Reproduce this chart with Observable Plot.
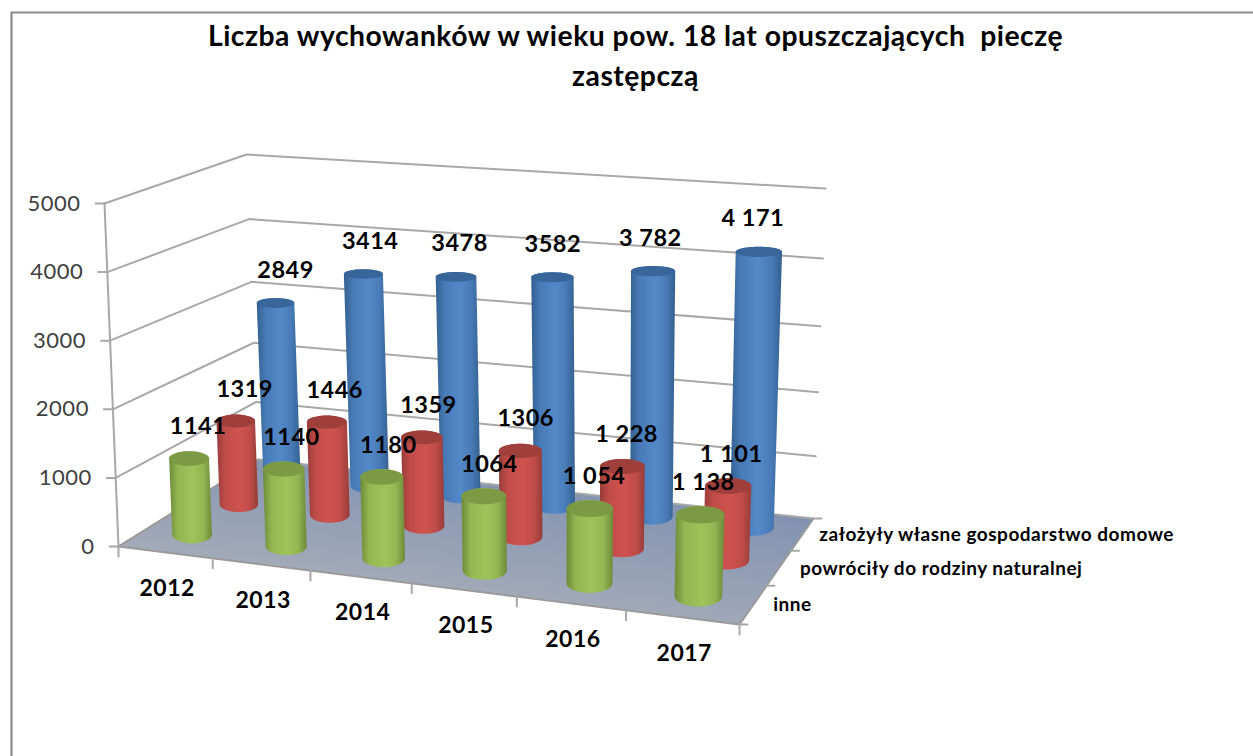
<!DOCTYPE html>
<html><head><meta charset="utf-8">
<script src="https://cdn.jsdelivr.net/npm/d3@7"></script>
<script src="https://cdn.jsdelivr.net/npm/@observablehq/plot@0.6"></script>
<style>html,body{margin:0;padding:0;background:#fff}svg{display:block}svg text{letter-spacing:0.5px}</style>
</head><body><div id="chart"></div>
<script>
const title = "Liczba wychowanków w wieku pow. 18 lat opuszczających  pieczę\nzastępczą";
const categories = ["2012","2013","2014","2015","2016","2017"];
const seriesNames = ["inne","powróciły do rodziny naturalnej","założyły własne gospodarstwo domowe"];
const inne = [1141,1140,1180,1064,1054,1138];
const powrocily = [1319,1446,1359,1306,1228,1101];
const zalozyly = [2849,3414,3478,3582,3782,4171];
const inneLabels = ["1141","1140","1180","1064","1 054","1 138"];
const powrocilyLabels = ["1319","1446","1359","1306","1 228","1 101"];
const zalozylyLabels = ["2849","3414","3478","3582","3 782","4 171"];
const valueTicks = [0,1000,2000,3000,4000,5000];
const seriesValues = [inne,powrocily,zalozyly];
const seriesLabels = [inneLabels,powrocilyLabels,zalozylyLabels];
const seriesStyle = ["green","red","blue"];

// 3D box projection
const maxV = 5000;
const floorQ = [[118,546],[739,624],[813,518],[258,459]];
const topQ = [[104,203],[752,250],[825,188],[246,154]];
function homog(q){
  const [[x0,y0],[x1,y1],[x2,y2],[x3,y3]] = q;
  const dx1=x1-x2,dx2=x3-x2,sx=x0-x1+x2-x3,dy1=y1-y2,dy2=y3-y2,sy=y0-y1+y2-y3;
  const den=dx1*dy2-dx2*dy1,g=(sx*dy2-dx2*sy)/den,h=(dx1*sy-sx*dy1)/den;
  const a=x1-x0+g*x1,b=x3-x0+h*x3,d=y1-y0+g*y1,e=y3-y0+h*y3;
  return (u,w)=>{const m=g*u+h*w+1;return [(a*u+b*w+x0)/m,(d*u+e*w+y0)/m];};
}
const Hf=homog(floorQ),Ht=homog(topQ);
function P(u,w,v){
  const persp=1-0.07*w;
  const s=v/maxV,t=s*persp/(1-(1-persp)*s);
  const a=Hf(u,w),b=Ht(u,w);
  return {x:a[0]+(b[0]-a[0])*t,y:a[1]+(b[1]-a[1])*t};
}
const ru=0.0358,rw=0.088,N=48;
const U=i=>(i+0.5)/6, W=j=>(j+0.5)/3+0.012;
function circle(u0,w0,v){
  const c=P(u0,w0,v);
  const ax=(P(u0+ru,w0,v).x-P(u0-ru,w0,v).x)/2;
  const by=Math.abs(P(u0,w0-rw,v).y-P(u0,w0+rw,v).y)/2;
  return d3.range(N).map(k=>{const a=k/N*2*Math.PI;return {x:c.x+ax*Math.cos(a),y:c.y+by*Math.sin(a)};});
}
const bodies=[[],[],[]],caps=[[],[],[]],labelRows=[];
seriesValues.forEach((vals,j)=>vals.forEach((v,i)=>{
  const id=j+"-"+i,base=circle(U(i),W(j),0),top=circle(U(i),W(j),v);
  const hull=d3.polygonHull([...base,...top].map(p=>[p.x,p.y]));
  hull.forEach(p=>bodies[j].push({id,x:p[0],y:p[1]}));
  top.forEach(p=>caps[j].push({id,x:p.x,y:p.y}));
  const c=P(U(i),W(j),v);
  const dx=j===2?10-3.2*i:9-1.2*i;
  labelRows.push({x:c.x+dx,y:c.y-(j===2?33:32),text:seriesLabels[j][i]});
}));
const grid=[];
valueTicks.forEach(v=>{[[0,0],[0,1],[1,1]].forEach(([u,w])=>{const p=P(u,w,v);grid.push({v,x:p.x,y:p.y});});});
const axisLine=valueTicks.map(v=>P(0,0,v));
const yTickLines=valueTicks.flatMap(v=>{const p=P(0,0,v);return [{v,x:p.x,y:p.y},{v,x:p.x-9,y:p.y}];});
const xTickLines=d3.range(7).flatMap(i=>{const p=P(i/6,0,0);return [{i,x:p.x,y:p.y},{i,x:p.x,y:p.y+10}];});
const zTickLines=d3.range(4).flatMap(j=>{const p=P(1,j/3,0);return [{j,x:p.x,y:p.y},{j,x:p.x+8,y:p.y}];});
const floorPts=[[0,0],[1,0],[1,1],[0,1]].map(([u,w])=>P(u,w,0));
const edges=[P(0,1,0),P(0,0,0),P(1,0,0),P(1,1,0)];

const defs=()=>{
  const s=document.createElementNS("http://www.w3.org/2000/svg","g");
  const cyl=(id,d,m,l)=>`<linearGradient id="${id}" x1="0" x2="1" y1="0" y2="0"><stop offset="0" stop-color="${d}"/><stop offset="0.2" stop-color="${m}"/><stop offset="0.55" stop-color="${l}"/><stop offset="0.8" stop-color="${m}"/><stop offset="1" stop-color="${d}"/></linearGradient>`;
  s.innerHTML=`<defs>${cyl("blue","#34608f","#477ab6","#5489c9")}${cyl("red","#963c3a","#c04c49","#d0534f")}${cyl("green","#6d8a38","#93b651","#a0c45b")}
  <linearGradient id="floor" x1="0.9" y1="0" x2="0.3" y2="1"><stop offset="0" stop-color="#7489ad"/><stop offset="1" stop-color="#b0b3bc"/></linearGradient></defs>`;
  return s;
};
const capFill=["#7c9a44","#9f3f3c","#38659a"];
const marks=[defs];
// frame
marks.push(Plot.line([{x:11,y:756},{x:11,y:12},{x:1253,y:12}],{x:"x",y:"y",stroke:"#8c8c8c",strokeWidth:2.2}));
marks.push(Plot.line(floorPts,{x:"x",y:"y",fill:"url(#floor)",stroke:"none"}));
marks.push(Plot.line(grid,{x:"x",y:"y",z:"v",stroke:"#a8a8a8",strokeWidth:2}));
marks.push(Plot.line(axisLine,{x:"x",y:"y",stroke:"#a8a8a8",strokeWidth:2}));
marks.push(Plot.line(edges,{x:"x",y:"y",stroke:"#9a9a9a",strokeWidth:2}));
marks.push(Plot.line(yTickLines,{x:"x",y:"y",z:"v",stroke:"#a8a8a8",strokeWidth:2}));
marks.push(Plot.line(xTickLines,{x:"x",y:"y",z:"i",stroke:"#a8a8a8",strokeWidth:2}));
marks.push(Plot.line(zTickLines,{x:"x",y:"y",z:"j",stroke:"#a8a8a8",strokeWidth:2}));
[2,1,0].forEach(j=>{
  marks.push(Plot.line(bodies[j],{x:"x",y:"y",z:"id",fill:`url(#${seriesStyle[j]})`,stroke:"none"}));
  marks.push(Plot.line(caps[j],{x:"x",y:"y",z:"id",fill:capFill[j],stroke:"none"}));
});
const font="Lato, Carlito, sans-serif";
const nameDx=[19,20,16];
marks.push(Plot.text(labelRows,{x:"x",y:"y",text:"text",fontSize:23.5,fontWeight:700,fill:"#000",fontFamily:font}));
marks.push(Plot.text(valueTicks,{x:v=>P(0,0,v).x-24,y:v=>P(0,0,v).y,text:v=>String(v),textAnchor:"end",fontSize:22,fill:"#404040",fontFamily:font}));
marks.push(Plot.text(categories,{x:(d,i)=>P((i+0.5)/6,0,0).x+2,y:(d,i)=>P((i+0.5)/6,0,0).y+36,text:d=>d,fontSize:23,fontWeight:700,fill:"#000",fontFamily:font}));
marks.push(Plot.text(seriesNames,{x:(d,j)=>P(1,W(j),0).x+nameDx[j],y:(d,j)=>P(1,W(j),0).y+2,text:d=>d,textAnchor:"start",fontSize:19,fontWeight:700,fill:"#000",fontFamily:font}));
marks.push(Plot.text([title],{x:()=>635,y:()=>53,text:d=>d,fontSize:28.3,fontWeight:700,fill:"#000",fontFamily:font,lineHeight:1.42}));

const chart=Plot.plot({
  width:1253,height:756,margin:0,
  x:{domain:[0,1253],range:[0,1253],axis:null},
  y:{domain:[0,756],range:[0,756],axis:null},
  marks
});
document.getElementById("chart").appendChild(chart);
</script></body></html>
